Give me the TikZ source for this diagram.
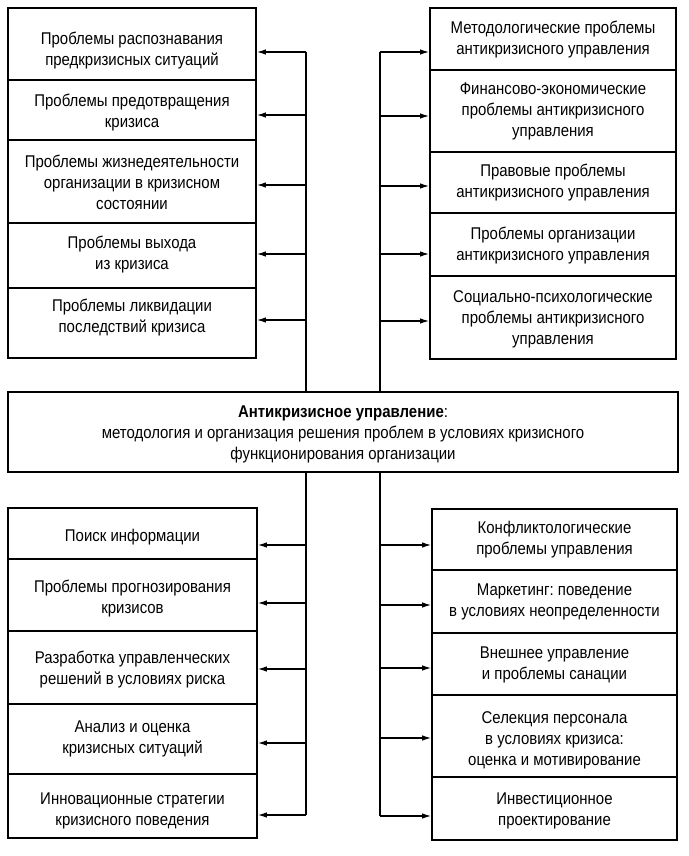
\documentclass[tikz,border=0pt]{standalone}
\usepackage{fontspec}
\setmainfont[FakeStretch=0.88]{Liberation Sans}
\usetikzlibrary{arrows.meta}
\frenchspacing
\begin{document}
\begin{tikzpicture}[x=1pt,y=-1pt,
  box/.style={draw,line width=1.8pt,rectangle,inner sep=0pt},
  txt/.style={align=center,font=\fontsize{17}{21}\selectfont,inner sep=0pt},
  conn/.style={line width=1.2pt},
  arr/.style={conn,-{Latex[length=9pt,width=5.5pt]}}]
\useasboundingbox (0,0) rectangle (688,856);
% ---------- top left column
\node[box,minimum width=248pt,minimum height=72pt] (l1) at (132,44) {};
\node[box,minimum width=248pt,minimum height=60pt] (l2) at (132,110) {};
\node[box,minimum width=248pt,minimum height=83pt] (l3) at (132,181.5) {};
\node[box,minimum width=248pt,minimum height=65pt] (l4) at (132,255.5) {};
\node[box,minimum width=248pt,minimum height=70pt] (l5) at (132,323) {};
\node[txt] (tl1) at (132,51) {Проблемы распознавания\\предкризисных ситуаций};
\node[txt] (tl2) at (132,113) {Проблемы предотвращения\\кризиса};
\node[txt] (tl3) at (132,182) {Проблемы жизнедеятельности\\организации в кризисном\\состоянии};
\node[txt] (tl4) at (132,255) {Проблемы выхода\\из кризиса};
\node[txt] (tl5) at (132,318) {Проблемы ликвидации\\последствий кризиса};
% ---------- top right column
\node[box,minimum width=246pt,minimum height=62pt] (r1) at (553,39) {};
\node[box,minimum width=246pt,minimum height=82pt] (r2) at (553,111) {};
\node[box,minimum width=246pt,minimum height=61pt] (r3) at (553,182.5) {};
\node[box,minimum width=246pt,minimum height=63pt] (r4) at (553,244.5) {};
\node[box,minimum width=246pt,minimum height=83pt] (r5) at (553,317.5) {};
\node[txt] (tr1) at (553,40) {Методологические проблемы\\антикризисного управления};
\node[txt] (tr2) at (553,111) {Финансово-экономические\\проблемы антикризисного\\управления};
\node[txt] (tr3) at (553,183) {Правовые проблемы\\антикризисного управления};
\node[txt] (tr4) at (553,246) {Проблемы организации\\антикризисного управления};
\node[txt] (tr5) at (553,319) {Социально-психологические\\проблемы антикризисного\\управления};
% ---------- centre
\node[box,minimum width=670pt,minimum height=80pt] (ctr) at (343,432) {};
\node[txt] (tctr) at (343,434) {\textbf{Антикризисное управление}:\\методология и организация решения проблем в условиях кризисного\\функционирования организации};
% ---------- bottom left column
\node[box,minimum width=249pt,minimum height=51pt] (b1) at (132.5,533.5) {};
\node[box,minimum width=249pt,minimum height=72pt] (b2) at (132.5,595) {};
\node[box,minimum width=249pt,minimum height=73pt] (b3) at (132.5,667.5) {};
\node[box,minimum width=249pt,minimum height=70pt] (b4) at (132.5,739) {};
\node[box,minimum width=249pt,minimum height=64pt] (b5) at (132.5,806) {};
\node[txt] (tb1) at (132.5,537) {Поиск информации};
\node[txt] (tb2) at (132.5,599) {Проблемы прогнозирования\\кризисов};
\node[txt] (tb3) at (132.5,670) {Разработка управленческих\\решений в условиях риска};
\node[txt] (tb4) at (132.5,739) {Анализ и оценка\\кризисных ситуаций};
\node[txt] (tb5) at (132.5,811) {Инновационные стратегии\\кризисного поведения};
% ---------- bottom right column
\node[box,minimum width=245pt,minimum height=61pt] (c1) at (554.5,539.5) {};
\node[box,minimum width=245pt,minimum height=63pt] (c2) at (554.5,601.5) {};
\node[box,minimum width=245pt,minimum height=62pt] (c3) at (554.5,664) {};
\node[box,minimum width=245pt,minimum height=82pt] (c4) at (554.5,736) {};
\node[box,minimum width=245pt,minimum height=63pt] (c5) at (554.5,808.5) {};
\node[txt] (tc1) at (554.5,540) {Конфликтологические\\проблемы управления};
\node[txt] (tc2) at (554.5,602) {Маркетинг: поведение\\в условиях неопределенности};
\node[txt] (tc3) at (554.5,665) {Внешнее управление\\и проблемы санации};
\node[txt] (tc4) at (554.5,740) {Селекция персонала\\в условиях кризиса:\\оценка и мотивирование};
\node[txt] (tc5) at (554.5,811) {Инвестиционное\\проектирование};
% ---------- connector points
\coordinate (aL1) at (306,52);
\coordinate (aL2) at (306,115);
\coordinate (aL3) at (306,185);
\coordinate (aL4) at (306,254);
\coordinate (aL5) at (306,320);
\coordinate (aR1) at (380,52);
\coordinate (aR2) at (380,116);
\coordinate (aR3) at (380,186);
\coordinate (aR4) at (380,254);
\coordinate (aR5) at (380,321);
\coordinate (bL1) at (306,545);
\coordinate (bL2) at (306,603);
\coordinate (bL3) at (306,669);
\coordinate (bL4) at (306,743);
\coordinate (bL5) at (306,815);
\coordinate (bR1) at (380,545);
\coordinate (bR2) at (380,605);
\coordinate (bR3) at (380,668);
\coordinate (bR4) at (380,738);
\coordinate (bR5) at (380,816);
% ---------- trunks
\draw[conn] (aL1) -- (aL1 |- ctr.north);
\draw[conn] (aR1) -- (aR1 |- ctr.north);
\draw[conn] (bL1 |- ctr.south) -- (bL5);
\draw[conn] (bR1 |- ctr.south) -- (bR5);
% ---------- arrows
\draw[arr] (aL1) -- (l1.east |- aL1);
\draw[arr] (aL2) -- (l2.east |- aL2);
\draw[arr] (aL3) -- (l3.east |- aL3);
\draw[arr] (aL4) -- (l4.east |- aL4);
\draw[arr] (aL5) -- (l5.east |- aL5);
\draw[arr] (aR1) -- (r1.west |- aR1);
\draw[arr] (aR2) -- (r2.west |- aR2);
\draw[arr] (aR3) -- (r3.west |- aR3);
\draw[arr] (aR4) -- (r4.west |- aR4);
\draw[arr] (aR5) -- (r5.west |- aR5);
\draw[arr] (bL1) -- (b1.east |- bL1);
\draw[arr] (bL2) -- (b2.east |- bL2);
\draw[arr] (bL3) -- (b3.east |- bL3);
\draw[arr] (bL4) -- (b4.east |- bL4);
\draw[arr] (bL5) -- (b5.east |- bL5);
\draw[arr] (bR1) -- (c1.west |- bR1);
\draw[arr] (bR2) -- (c2.west |- bR2);
\draw[arr] (bR3) -- (c3.west |- bR3);
\draw[arr] (bR4) -- (c4.west |- bR4);
\draw[arr] (bR5) -- (c5.west |- bR5);
\end{tikzpicture}
\end{document}
